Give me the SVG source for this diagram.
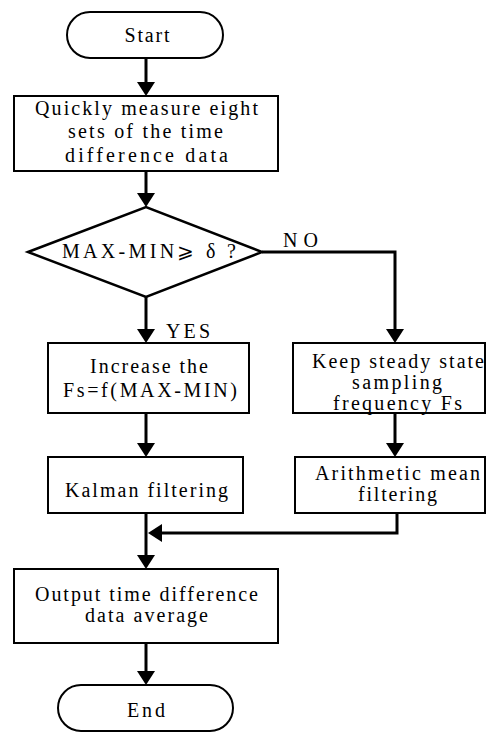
<svg xmlns="http://www.w3.org/2000/svg" width="486" height="733" viewBox="0 0 486 733">
<style>
.shape{fill:#fff;stroke:#000;stroke-width:2}
.dia{fill:#fff;stroke:#000;stroke-width:2.5}
.t{font-family:"Liberation Serif","Times New Roman",serif;font-size:20px;fill:#000;text-anchor:middle}
.c{fill:none;stroke:#000;stroke-width:3}
</style>
<defs>
<marker id="ah" viewBox="0 0 14 18" refX="4" refY="9" markerWidth="14" markerHeight="18" markerUnits="userSpaceOnUse" orient="auto">
<path d="M0,0 L14,9 L0,18 z" fill="#000"/>
</marker>
</defs>
<rect width="486" height="733" fill="#fff"/>
<g id="connectors">
<path class="c" d="M146,58 V86" marker-end="url(#ah)"/>
<path class="c" d="M146,171 V197" marker-end="url(#ah)"/>
<path class="c" d="M146,297 V333" marker-end="url(#ah)"/>
<path class="c" d="M262,252 H395 V333" marker-end="url(#ah)"/>
<path class="c" d="M146,413 V447" marker-end="url(#ah)"/>
<path class="c" d="M395,413 V447" marker-end="url(#ah)"/>
<path class="c" d="M146,513 V559" marker-end="url(#ah)"/>
<path class="c" d="M397,513 V533 H158" marker-end="url(#ah)"/>
<path class="c" d="M146,643 V675" marker-end="url(#ah)"/>
<text class="t" x="300.5" y="247" textLength="35" lengthAdjust="spacing">NO</text>
<text class="t" x="188" y="338" textLength="44" lengthAdjust="spacing">YES</text>
</g>
<g id="start">
<rect class="shape" x="67" y="12" width="156" height="46" rx="23"/>
<text class="t" x="147" y="42" textLength="45" lengthAdjust="spacing">Start</text>
</g>
<g id="measure">
<rect class="shape" x="14" y="96" width="264" height="75"/>
<text class="t" x="146.5" y="115" textLength="223" lengthAdjust="spacing">Quickly measure eight</text>
<text class="t" x="145.5" y="138" textLength="155" lengthAdjust="spacing">sets of the time</text>
<text class="t" x="146.5" y="162" textLength="163" lengthAdjust="spacing">difference data</text>
</g>
<g id="decision">
<polygon class="dia" points="28,252 146,207 262,252 146,297"/>
<text class="t" x="149" y="258" textLength="174" lengthAdjust="spacing">MAX-MIN⩾ δ ?</text>
</g>
<g id="increase">
<rect class="shape" x="48" y="343" width="201" height="70"/>
<text class="t" x="149" y="373" textLength="118" lengthAdjust="spacing">Increase the</text>
<text class="t" x="150" y="397" textLength="174" lengthAdjust="spacing">Fs=f(MAX-MIN)</text>
</g>
<g id="keep">
<rect class="shape" x="293" y="343" width="192" height="70"/>
<text class="t" x="398" y="368" textLength="172" lengthAdjust="spacing">Keep steady state</text>
<text class="t" x="397" y="389" textLength="90" lengthAdjust="spacing">sampling</text>
<text class="t" x="397.5" y="410" textLength="129" lengthAdjust="spacing">frequency Fs</text>
</g>
<g id="kalman">
<rect class="shape" x="48" y="457" width="195" height="56"/>
<text class="t" x="146.5" y="497" textLength="163" lengthAdjust="spacing">Kalman filtering</text>
</g>
<g id="arith">
<rect class="shape" x="295" y="457" width="190" height="56"/>
<text class="t" x="397.5" y="480" textLength="165" lengthAdjust="spacing">Arithmetic mean</text>
<text class="t" x="397.5" y="501" textLength="79" lengthAdjust="spacing">filtering</text>
</g>
<g id="output">
<rect class="shape" x="14" y="569" width="264" height="74"/>
<text class="t" x="146.5" y="601" textLength="223" lengthAdjust="spacing">Output time difference</text>
<text class="t" x="146.5" y="622" textLength="123" lengthAdjust="spacing">data average</text>
</g>
<g id="end">
<rect class="shape" x="58" y="685" width="175" height="46" rx="23"/>
<text class="t" x="146" y="717" textLength="38" lengthAdjust="spacing">End</text>
</g>
</svg>
